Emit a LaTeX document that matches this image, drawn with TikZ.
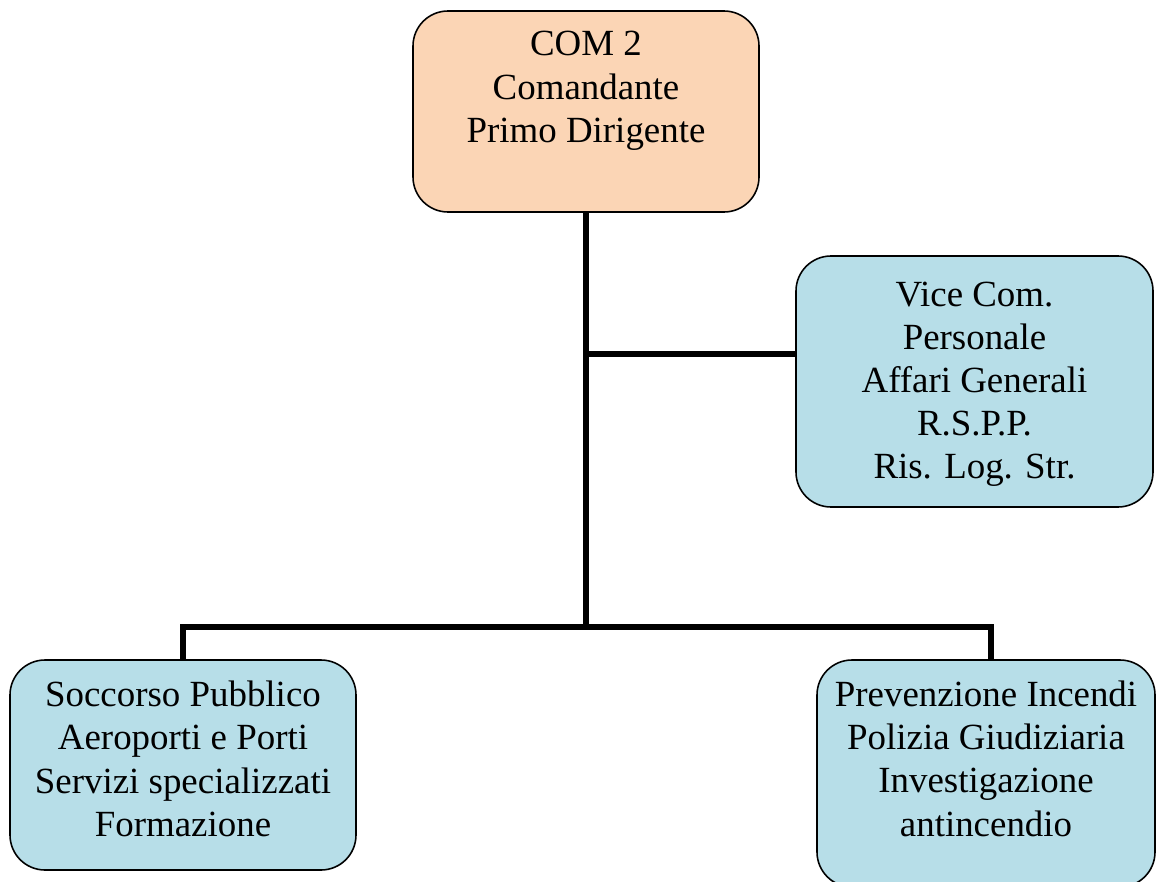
\documentclass[tikz,border=0pt]{standalone}
\usepackage{fontspec}
\setmainfont{Liberation Serif}
\usetikzlibrary{calc, positioning}
\definecolor{peach}{RGB}{251,213,181}
\definecolor{paleblue}{RGB}{183,222,232}
\begin{document}
\begin{tikzpicture}[font=\fontsize{21}{24.6}\selectfont]
\tikzset{every node/.style={inner sep=1mm, outer sep=0mm}}

\tikzstyle{office}=[rectangle, rounded corners=0.7cm, draw=black, line width=0.9pt, align=center]
\tikzstyle{head}=[office, fill=peach]
\tikzstyle{branch}=[office, fill=paleblue]
\tikzstyle{link}=[line width=3.4pt]

\useasboundingbox (0,0) rectangle (23.12,-17.64);

\node[head, minimum width=6.92cm, minimum height=4.02cm, text depth=0.98cm] (com box) at (11.72,-2.23) {COM 2\\Comandante\\Primo Dirigente};

\node[branch, below right=0.88cm and 0.74cm of com box, minimum width=7.14cm, minimum height=5.02cm, text depth=0.05cm] (vice box) {Vice Com.\\Personale\\Affari Generali\\R.S.P.P.\\Ris. Log. Str.};

\node[branch, below left=8.96cm and 1.14cm of com box, minimum width=6.92cm, minimum height=4.2cm, text depth=0.25cm] (soccorso box) {Soccorso Pubblico\\Aeroporti e Porti\\Servizi specializzati\\Formazione};
\node[branch, below right=8.96cm and 1.16cm of com box, minimum width=6.76cm, minimum height=4.54cm, text depth=0.6cm] (prevenzione box) {Prevenzione Incendi\\Polizia Giudiziaria\\Investigazione\\antincendio};

% connectors
\coordinate[below=8.3cm of com box.south] (split);
\coordinate (vice in) at ([yshift=0.55cm]vice box.west);

\draw[link] (com box.south) -- (split);
\draw[link] (vice in) -- (vice in -| com box.south);
\draw[link] (soccorso box.north) |- (split) -| ([xshift=1mm]prevenzione box.north);

\end{tikzpicture}
\end{document}
